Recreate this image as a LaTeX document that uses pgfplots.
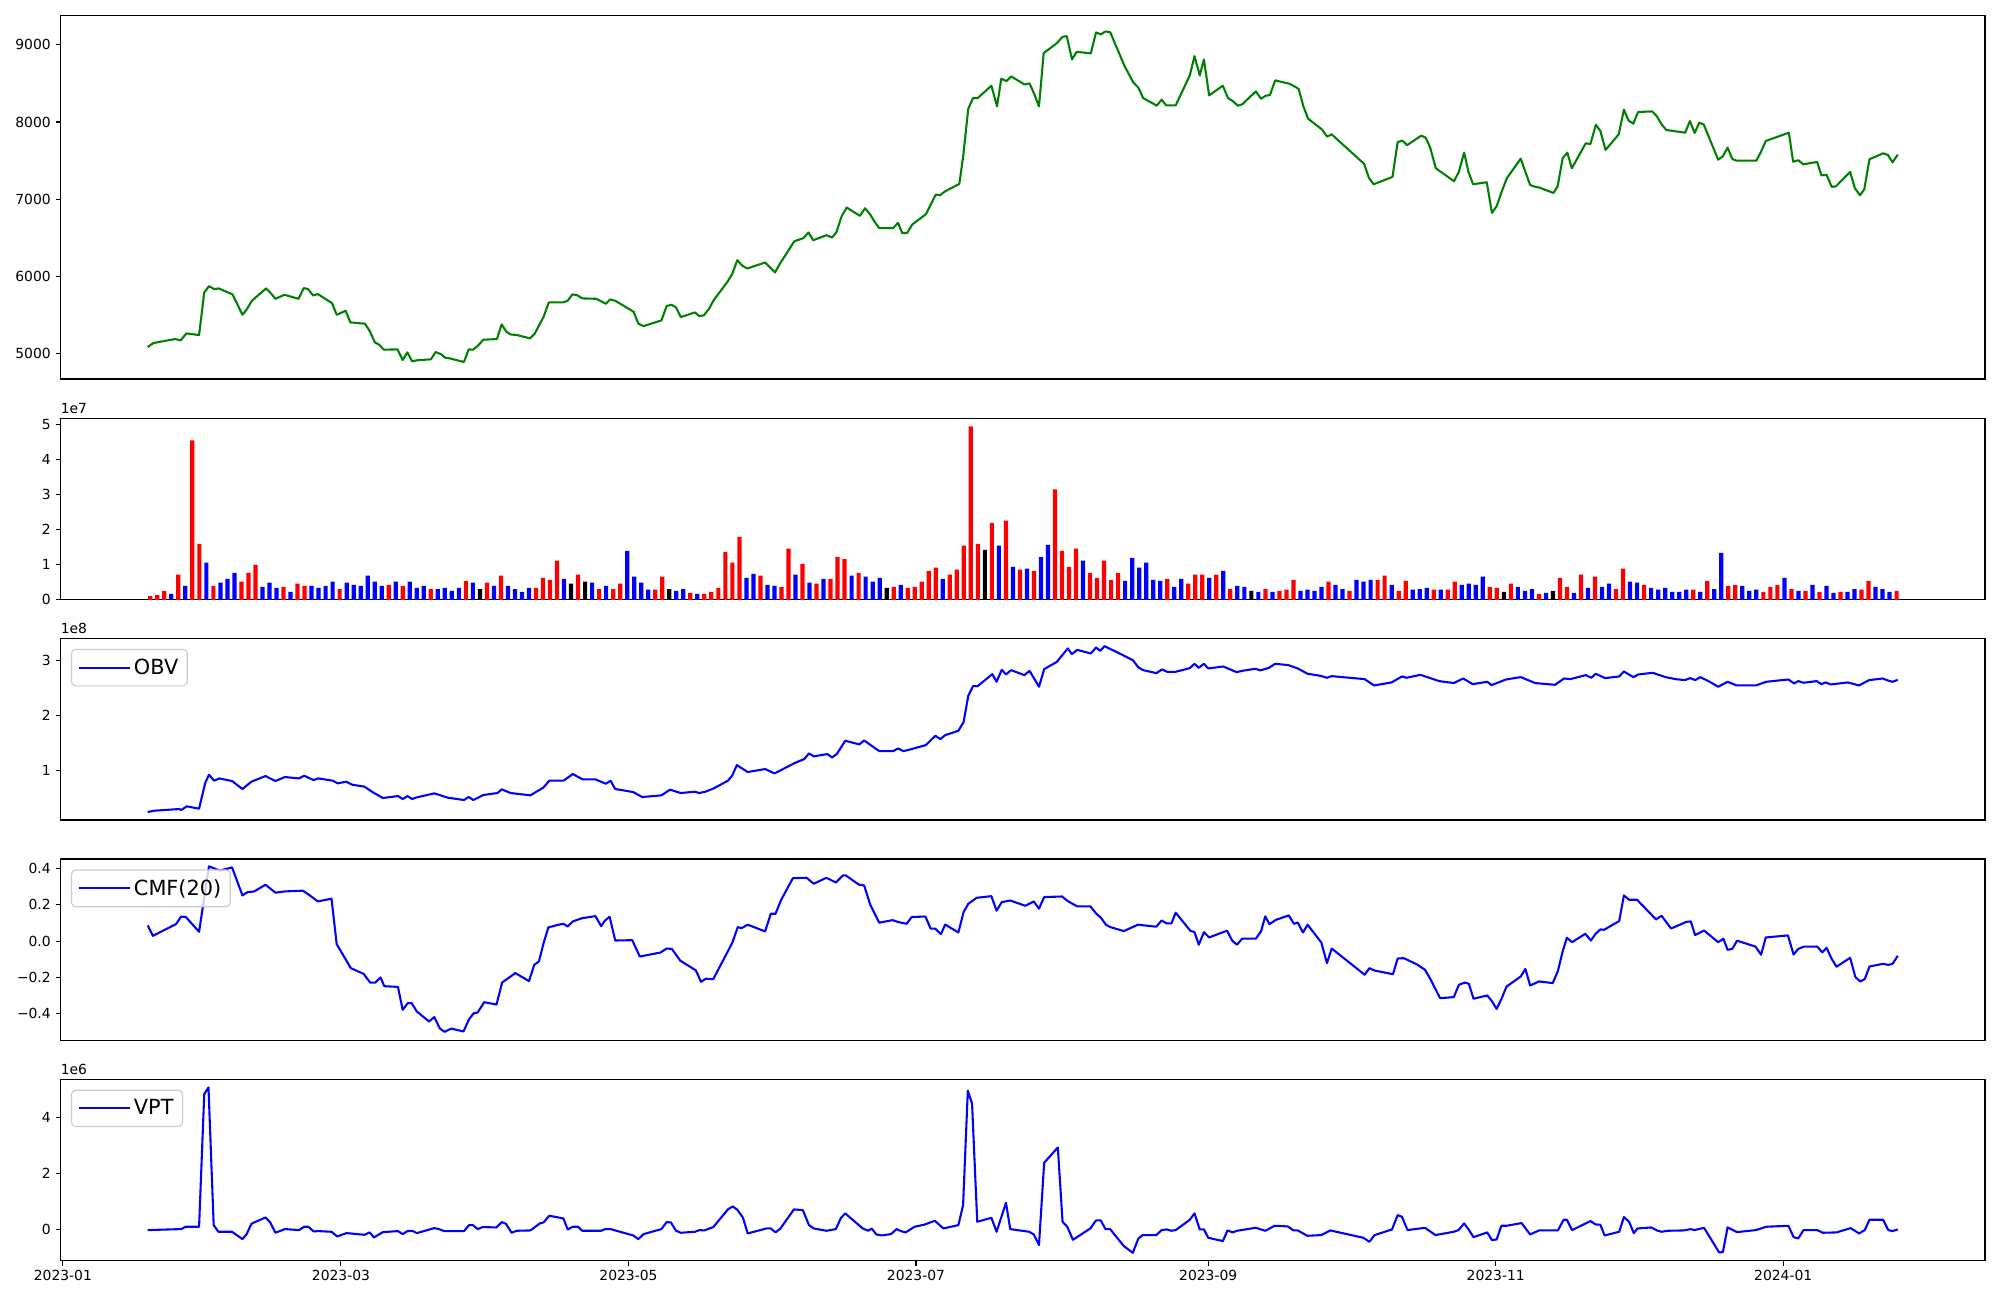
\documentclass[border=0pt]{standalone}
\usepackage{fontspec}
\setmainfont{DejaVu Sans}
\usepackage{pgfplots}
\usepackage{pgfplotstable}
\pgfplotsset{compat=1.18}

\pgfplotstableread{
i v c
0 0.11 0
1 0.14 0
2 0.26 0
3 0.17 1
4 0.72 0
5 0.40 1
6 4.55 0
7 1.60 0
8 1.06 1
9 0.40 0
10 0.49 1
11 0.60 1
12 0.77 1
13 0.52 0
14 0.77 0
15 1.00 0
16 0.37 1
17 0.49 1
18 0.34 1
19 0.37 0
20 0.23 1
21 0.46 0
22 0.40 0
23 0.40 1
24 0.34 1
25 0.40 1
26 0.52 1
27 0.31 0
28 0.49 1
29 0.43 1
30 0.40 1
31 0.69 1
32 0.52 1
33 0.40 1
34 0.43 0
35 0.52 1
36 0.40 0
37 0.52 1
38 0.34 1
39 0.40 1
40 0.31 0
41 0.31 1
42 0.34 1
43 0.26 1
44 0.34 1
45 0.54 0
46 0.49 1
47 0.31 2
48 0.49 0
49 0.40 1
50 0.69 0
51 0.40 1
52 0.31 1
53 0.23 1
54 0.34 1
55 0.34 0
56 0.63 0
57 0.57 0
58 1.12 0
59 0.60 1
60 0.46 2
61 0.72 0
62 0.52 2
63 0.49 1
64 0.31 0
65 0.40 1
66 0.31 0
67 0.46 0
68 1.40 1
69 0.66 1
70 0.49 1
71 0.29 1
72 0.29 0
73 0.66 0
74 0.31 2
75 0.26 1
76 0.31 1
77 0.20 0
78 0.17 1
79 0.17 0
80 0.23 0
81 0.34 0
82 1.37 0
83 1.06 0
84 1.80 0
85 0.63 1
86 0.74 1
87 0.69 0
88 0.43 1
89 0.40 1
90 0.37 0
91 1.46 0
92 0.72 1
93 1.03 0
94 0.49 1
95 0.46 0
96 0.60 1
97 0.60 0
98 1.23 0
99 1.17 0
100 0.69 1
101 0.77 0
102 0.66 1
103 0.52 1
104 0.63 1
105 0.34 2
106 0.37 0
107 0.43 1
108 0.34 0
109 0.37 0
110 0.52 0
111 0.83 0
112 0.92 0
113 0.60 1
114 0.72 0
115 0.86 0
116 1.55 0
117 4.95 0
118 1.60 0
119 1.43 2
120 2.20 0
121 1.55 1
122 2.26 0
123 0.94 1
124 0.86 0
125 0.89 1
126 0.83 0
127 1.23 1
128 1.57 1
129 3.15 0
130 1.40 0
131 0.94 0
132 1.46 0
133 1.12 1
134 0.77 0
135 0.63 0
136 1.12 0
137 0.57 0
138 0.77 0
139 0.54 1
140 1.20 1
141 0.92 1
142 1.06 1
143 0.57 1
144 0.54 1
145 0.60 0
146 0.37 1
147 0.60 1
148 0.46 0
149 0.72 0
150 0.72 0
151 0.63 1
152 0.72 0
153 0.83 1
154 0.31 0
155 0.40 1
156 0.37 1
157 0.26 2
158 0.23 1
159 0.31 0
160 0.23 1
161 0.26 0
162 0.29 0
163 0.57 0
164 0.26 1
165 0.29 1
166 0.26 1
167 0.37 1
168 0.52 0
169 0.43 1
170 0.31 1
171 0.26 0
172 0.57 1
173 0.52 1
174 0.57 1
175 0.57 0
176 0.69 0
177 0.43 1
178 0.26 0
179 0.54 0
180 0.29 1
181 0.31 1
182 0.34 1
183 0.29 0
184 0.29 1
185 0.29 0
186 0.52 0
187 0.43 1
188 0.46 1
189 0.43 1
190 0.66 1
191 0.37 0
192 0.34 0
193 0.23 2
194 0.46 0
195 0.37 1
196 0.26 1
197 0.31 1
198 0.17 0
199 0.20 1
200 0.26 2
201 0.63 0
202 0.37 0
203 0.20 1
204 0.72 0
205 0.34 1
206 0.66 0
207 0.37 1
208 0.46 1
209 0.31 0
210 0.89 0
211 0.52 1
212 0.49 1
213 0.43 0
214 0.34 1
215 0.29 1
216 0.34 1
217 0.23 1
218 0.23 1
219 0.29 1
220 0.29 0
221 0.23 1
222 0.54 0
223 0.31 1
224 1.34 1
225 0.40 0
226 0.43 0
227 0.40 1
228 0.26 1
229 0.29 1
230 0.23 0
231 0.37 0
232 0.43 0
233 0.63 1
234 0.31 0
235 0.26 1
236 0.26 0
237 0.43 1
238 0.23 0
239 0.40 1
240 0.20 1
241 0.23 0
242 0.23 1
243 0.31 1
244 0.29 0
245 0.54 0
246 0.37 1
247 0.31 1
248 0.23 1
249 0.26 0
}\voltab

\pgfplotsset{
  mpl/.style={
    scale only axis,
    width=1385.6pt,
    axis line style={line width=0.8pt},
    every tick/.style={black, line width=0.8pt},
    major tick length=3.5pt,
    tick align=outside,
    xtick pos=left, ytick pos=left,
    ticklabel style={font=\fontsize{10}{12}\selectfont},
    /pgf/number format/assume math mode=true,
    legend style={at={(0,1)}, anchor=north west, xshift=7.5pt, yshift=-7.5pt,
      draw=black!20, line width=0.8pt, rounded corners=3pt, fill=white,
      fill opacity=0.8, text opacity=1, font=\fontsize{15}{18}\selectfont,
      inner xsep=4.5pt, inner ysep=4.8pt, cells={anchor=west}},
    legend image code/.code={\path (0pt,0pt) -- (37pt,0pt);\draw[##1, line width=1.5pt] (0pt,0pt) -- (30pt,0pt);},
  },
  dates/.style={xmin=-0.5, xmax=407.8},
  ln/.style={line width=1.5pt, line join=round},
}

\begin{document}
\begin{tikzpicture}
\useasboundingbox (0,0) rectangle (1440pt,-936pt);

% ---------------- Panel 1: price
\begin{axis}[mpl, dates, at={(43.56pt,-11.16pt)}, anchor=north west, height=261.7pt,
  ymin=4667, ymax=9382, xtick=\empty,
  ytick={5000,6000,7000,8000,9000}, yticklabels={5000,6000,7000,8000,9000}]
\addplot[ln, color={rgb,255:red,0;green,128;blue,0}] coordinates {
(18.0,5081)(19.2,5133)(23.8,5185)(25.0,5168)(26.2,5258)(28.9,5237)(30.0,5789)(31.0,5871)
(32.1,5833)(33.1,5841)(36.0,5764)(38.1,5500)(39.0,5569)(40.1,5681)(43.1,5841)(44.0,5789)
(45.1,5707)(47.0,5759)(50.0,5707)(51.1,5846)(52.0,5833)(53.1,5750)(54.1,5768)(57.1,5651)
(58.1,5500)(60.0,5552)(61.0,5401)(64.1,5384)(65.1,5289)(66.2,5142)(67.1,5111)(68.1,5047)
(71.0,5051)(72.1,4913)(73.1,5012)(74.1,4896)(75.1,4909)(78.1,4922)(79.1,5017)(80.3,4986)
(81.1,4943)(82.1,4934)(85.1,4887)(86.1,5051)(87.0,5047)(88.0,5094)(89.2,5176)(92.1,5185)
(93.1,5375)(94.1,5280)(95.0,5245)(96.3,5237)(99.1,5194)(100.1,5254)(102.0,5474)(103.1,5660)
(106.1,5660)(107.1,5681)(108.1,5764)(109.1,5755)(110.2,5712)(113.2,5707)(115.2,5643)(116.1,5699)
(117.2,5681)(121.1,5539)(122.1,5384)(123.2,5353)(127.0,5427)(128.1,5612)(129.1,5630)(130.1,5595)
(131.1,5470)(134.1,5530)(135.0,5483)(136.0,5492)(137.1,5578)(138.1,5690)(141.0,5928)(142.0,6027)
(143.1,6208)(144.1,6139)(145.2,6100)(149.0,6178)(151.1,6049)(152.2,6169)(155.2,6454)(157.1,6493)
(158.2,6567)(159.2,6467)(162.0,6532)(163.2,6502)(164.1,6567)(165.2,6774)(166.3,6891)(169.1,6783)
(170.2,6882)(171.3,6800)(172.1,6718)(173.2,6623)(176.1,6623)(177.2,6692)(178.1,6558)(179.1,6558)
(180.2,6670)(183.1,6804)(185.2,7059)(186.1,7050)(187.2,7102)(190.2,7197)(191.0,7547)(192.1,8173)
(193.1,8311)(194.1,8311)(197.0,8471)(198.2,8203)(199.1,8562)(200.2,8531)(201.2,8592)(204.0,8488)
(205.1,8501)(206.1,8363)(207.1,8203)(208.1,8894)(210.9,9024)(212.1,9106)(213.0,9114)(214.1,8812)
(215.1,8911)(218.1,8890)(219.2,9162)(220.2,9136)(221.2,9175)(222.2,9166)(225.2,8734)(227.1,8514)
(228.2,8445)(229.2,8311)(232.1,8212)(233.1,8290)(234.1,8216)(236.1,8216)(239.1,8605)(240.1,8855)
(241.2,8605)(242.1,8812)(243.2,8346)(246.1,8471)(247.2,8311)(248.2,8272)(249.3,8212)(250.2,8229)
(253.1,8397)(254.2,8302)(255.2,8341)(256.1,8350)(257.2,8540)(260.2,8497)(261.2,8467)(262.2,8428)
(263.2,8203)(264.2,8043)(267.2,7901)(268.2,7810)(269.2,7840)(276.1,7456)(277.1,7275)(278.1,7193)
(282.1,7288)(283.2,7741)(284.2,7758)(285.2,7700)(288.2,7823)(289.15,7797)(290.1,7668)(291.3,7400)
(295.15,7232)(296.2,7357)(297.3,7603)(298.2,7357)(299.2,7193)(302.1,7219)(303.2,6821)(304.2,6908)
(305.3,7102)(306.35,7270)(309.3,7525)(310.3,7353)(311.3,7184)(312.2,7163)(313.25,7150)(316.25,7080)
(317.15,7167)(318.2,7530)(319.2,7603)(320.15,7400)(323.1,7724)(324.1,7715)(325.25,7966)(326.2,7884)
(327.3,7638)(330.1,7840)(331.2,8160)(332.2,8018)(333.2,7979)(334.2,8130)(337.2,8138)(338.2,8074)
(339.2,7970)(340.2,7897)(344.2,7862)(345.2,8013)(346.2,7858)(347.2,7992)(348.15,7966)(351.2,7512)
(352.2,7556)(353.2,7668)(354.2,7521)(355.1,7499)(359.3,7499)(360.2,7603)(361.3,7754)(366.2,7862)
(367.1,7486)(368.2,7504)(369.25,7452)(372.2,7482)(373.1,7309)(374.2,7314)(375.3,7158)(376.2,7167)
(379.2,7353)(380.2,7141)(381.3,7050)(382.2,7128)(383.3,7517)(386.2,7594)(387.2,7573)(388.2,7478)
(389.3,7577)
};
\end{axis}

% ---------------- Panel 2: volume
\begin{axis}[mpl, at={(43.56pt,-301.2pt)}, anchor=north west, height=130.7pt,
  xmin=-12.8, xmax=261.6, ymin=0, ymax=5.18, xtick=\empty,
  ytick={0,1,2,3,4,5}, yticklabels={0,1,2,3,4,5}]
\addplot[ybar, bar width=0.6, bar shift=0pt, fill=red, draw=none,
  restrict expr to domain={\thisrow{c}}{-0.5:0.5}] table[x=i, y=v] {\voltab};
\addplot[ybar, bar width=0.6, bar shift=0pt, fill=blue, draw=none,
  restrict expr to domain={\thisrow{c}}{0.5:1.5}] table[x=i, y=v] {\voltab};
\addplot[ybar, bar width=0.6, bar shift=0pt, fill=black, draw=none,
  restrict expr to domain={\thisrow{c}}{1.5:2.5}] table[x=i, y=v] {\voltab};
\end{axis}
\node[anchor=south west, inner sep=0pt, font=\fontsize{10}{12}\selectfont] at (43.56pt,-298pt) {1e7};

% ---------------- Panel 3: OBV
\begin{axis}[mpl, dates, at={(43.56pt,-459.7pt)}, anchor=north west, height=130.7pt,
  ymin=0.096, ymax=3.408, xtick=\empty,
  ytick={1,2,3}, yticklabels={1,2,3}]
\addplot[ln, color=blue] coordinates {
(18.0,0.242)(19.4,0.266)(24.7,0.296)(25.1,0.278)(26.3,0.345)(28.9,0.303)(30.2,0.770)(31.0,0.922)
(32.1,0.813)(33.2,0.855)(35.9,0.807)(38.1,0.661)(40.0,0.795)(43.0,0.898)(45.1,0.807)(47.1,0.880)
(50.1,0.855)(51.2,0.904)(53.2,0.825)(54.2,0.855)(57.3,0.813)(58.3,0.764)(60.1,0.795)(61.4,0.740)
(64.0,0.704)(65.8,0.600)(67.9,0.497)(71.1,0.533)(72.1,0.479)(73.1,0.533)(74.1,0.479)(75.1,0.509)
(78.8,0.582)(81.7,0.503)(85.1,0.461)(86.1,0.515)(87.1,0.461)(89.2,0.552)(92.2,0.588)(93.1,0.655)
(95.0,0.588)(99.2,0.546)(102.0,0.691)(103.2,0.813)(106.2,0.813)(108.2,0.934)(110.3,0.837)(113.0,0.837)
(115.2,0.758)(116.2,0.813)(117.2,0.661)(121.0,0.606)(122.9,0.515)(127.0,0.546)(128.8,0.649)(131.1,0.588)
(134.1,0.612)(135.0,0.588)(136.3,0.612)(138.1,0.673)(141.1,0.813)(142.0,0.904)(143.0,1.098)(145.3,0.971)
(149.0,1.026)(151.0,0.946)(155.4,1.141)(157.3,1.208)(158.3,1.311)(159.3,1.257)(162.2,1.299)(163.2,1.238)
(164.2,1.299)(166.0,1.542)(169.0,1.475)(170.0,1.548)(171.6,1.451)(173.2,1.354)(176.2,1.354)(177.2,1.402)
(178.3,1.354)(179.3,1.372)(183.1,1.463)(185.1,1.633)(186.2,1.572)(187.2,1.645)(190.0,1.724)(191.1,1.882)
(192.1,2.362)(193.1,2.539)(194.1,2.539)(197.2,2.758)(198.1,2.618)(199.2,2.836)(200.1,2.752)(201.2,2.830)
(204.0,2.739)(205.1,2.818)(207.1,2.527)(208.2,2.849)(210.9,2.982)(213.2,3.226)(214.1,3.122)(215.2,3.201)
(218.1,3.134)(219.2,3.244)(220.1,3.183)(221.0,3.268)(224.2,3.134)(227.0,3.013)(228.2,2.879)(229.2,2.830)
(232.0,2.776)(233.2,2.843)(234.3,2.800)(236.1,2.800)(239.1,2.867)(240.1,2.946)(241.0,2.873)(242.1,2.946)
(243.0,2.861)(246.2,2.897)(249.0,2.794)(250.6,2.824)(253.1,2.855)(254.0,2.824)(255.9,2.873)(257.2,2.946)
(260.0,2.922)(262.0,2.861)(264.1,2.764)(266.8,2.727)(268.2,2.691)(269.2,2.721)(276.2,2.666)(278.2,2.551)
(281.9,2.606)(284.1,2.715)(285.1,2.691)(288.0,2.745)(292.0,2.630)(295.1,2.594)(297.1,2.678)(299.1,2.575)
(302.2,2.618)(303.1,2.557)(306.2,2.660)(309.3,2.703)(312.4,2.594)(316.6,2.563)(318.5,2.678)(319.8,2.666)
(323.1,2.739)(324.3,2.691)(325.2,2.764)(327.2,2.685)(330.2,2.715)(331.2,2.806)(333.2,2.703)(334.3,2.752)
(337.3,2.782)(340.0,2.703)(342.2,2.666)(344.1,2.648)(345.3,2.685)(346.3,2.648)(347.4,2.703)(349.4,2.618)
(351.2,2.527)(353.2,2.618)(355.1,2.551)(359.2,2.551)(361.4,2.618)(366.1,2.660)(367.3,2.588)(368.2,2.630)
(369.3,2.600)(372.1,2.630)(373.1,2.575)(374.0,2.606)(375.1,2.569)(378.7,2.606)(381.1,2.551)(383.2,2.648)
(386.1,2.678)(387.2,2.642)(388.2,2.618)(389.3,2.654)
};
\addlegendentry{OBV}
\end{axis}
\node[anchor=south west, inner sep=0pt, font=\fontsize{10}{12}\selectfont] at (43.56pt,-456.5pt) {1e8};

% ---------------- Panel 4: CMF
\begin{axis}[mpl, dates, at={(43.56pt,-618.5pt)}, anchor=north west, height=130.7pt,
  ymin=-0.547, ymax=0.451, xtick=\empty,
  ytick={-0.4,-0.2,0,0.2,0.4}, yticklabels={−0.4,−0.2,0.0,0.2,0.4}]
\addplot[ln, color=blue] coordinates {
(18.0,0.086)(19.1,0.029)(24.0,0.093)(25.1,0.135)(26.1,0.132)(28.9,0.051)(31.0,0.411)(33.3,0.387)
(35.9,0.405)(38.1,0.251)(39.2,0.269)(40.6,0.273)(43.0,0.310)(45.1,0.266)(47.1,0.273)(50.9,0.277)
(52.2,0.255)(54.1,0.218)(57.0,0.233)(58.1,-0.017)(61.1,-0.149)(63.8,-0.180)(65.2,-0.228)(66.3,-0.228)
(67.4,-0.200)(68.2,-0.248)(71.1,-0.252)(72.1,-0.378)(73.2,-0.341)(74.0,-0.341)(75.1,-0.387)(77.7,-0.442)
(78.8,-0.418)(80.0,-0.481)(81.0,-0.499)(82.4,-0.481)(85.0,-0.497)(86.2,-0.429)(87.2,-0.396)(88.0,-0.393)
(89.4,-0.336)(92.0,-0.349)(93.2,-0.228)(96.0,-0.176)(98.9,-0.220)(100.0,-0.131)(101.0,-0.112)(102.0,-0.011)
(103.0,0.075)(105.2,0.090)(106.2,0.095)(107.1,0.080)(108.2,0.108)(110.2,0.126)(113.0,0.137)(114.2,0.082)
(115.0,0.112)(116.0,0.134)(117.2,0.003)(120.8,0.005)(122.4,-0.085)(126.8,-0.063)(128.1,-0.041)(129.2,-0.043)
(131.0,-0.108)(134.3,-0.161)(135.4,-0.224)(136.4,-0.207)(138.0,-0.209)(142.0,-0.011)(143.2,0.077)(144.0,0.071)
(145.3,0.090)(149.0,0.053)(150.2,0.150)(151.2,0.150)(152.4,0.227)(154.9,0.346)(157.8,0.348)(159.3,0.315)
(162.0,0.348)(164.0,0.322)(165.5,0.361)(166.1,0.361)(168.9,0.310)(170.0,0.306)(171.3,0.200)(173.2,0.101)
(176.0,0.115)(177.3,0.104)(179.0,0.095)(180.1,0.132)(183.0,0.135)(184.1,0.069)(185.1,0.068)(186.3,0.038)
(187.2,0.091)(190.0,0.047)(191.1,0.159)(192.1,0.205)(193.9,0.238)(197.0,0.247)(198.1,0.167)(199.2,0.214)
(201.0,0.223)(204.2,0.194)(206.0,0.218)(207.1,0.178)(208.2,0.242)(212.0,0.245)(213.3,0.218)(215.2,0.191)
(218.0,0.191)(219.3,0.149)(220.2,0.130)(221.3,0.090)(222.2,0.077)(225.1,0.055)(228.1,0.090)(232.0,0.079)
(233.1,0.113)(234.2,0.097)(235.2,0.097)(236.1,0.156)(239.2,0.057)(240.1,0.049)(241.0,-0.020)(242.1,0.049)
(243.2,0.020)(247.0,0.057)(248.1,0.002)(249.1,-0.020)(250.2,0.013)(253.1,0.013)(254.2,0.053)(255.1,0.136)
(256.0,0.093)(257.4,0.117)(260.1,0.141)(261.2,0.095)(262.0,0.102)(263.1,0.047)(264.1,0.090)(267.0,-0.008)
(268.2,-0.121)(269.2,-0.041)(276.2,-0.185)(277.2,-0.149)(278.3,-0.162)(282.2,-0.182)(283.2,-0.096)(284.5,-0.094)
(287.2,-0.127)(289.0,-0.158)(290.1,-0.207)(292.2,-0.314)(295.1,-0.308)(296.2,-0.240)(297.5,-0.228)(298.3,-0.235)
(299.3,-0.317)(302.2,-0.299)(303.1,-0.327)(304.2,-0.373)(305.2,-0.319)(306.3,-0.250)(309.3,-0.195)(310.3,-0.153)
(311.3,-0.244)(313.2,-0.222)(316.1,-0.231)(317.2,-0.164)(318.2,-0.057)(319.1,0.018)(320.2,-0.006)(323.0,0.040)
(324.2,0.003)(325.2,0.040)(326.2,0.064)(327.0,0.062)(330.2,0.110)(331.2,0.251)(332.3,0.227)(334.0,0.227)
(338.0,0.119)(339.2,0.139)(341.2,0.069)(344.5,0.106)(345.4,0.108)(346.3,0.033)(348.2,0.058)(351.2,-0.006)
(352.3,0.013)(353.2,-0.048)(354.2,-0.043)(355.2,0.002)(359.1,-0.030)(360.3,-0.075)(361.3,0.020)(366.0,0.031)
(367.2,-0.074)(368.2,-0.043)(369.3,-0.031)(372.2,-0.030)(373.3,-0.062)(374.2,-0.037)(375.2,-0.094)(376.3,-0.141)
(379.2,-0.092)(380.3,-0.197)(381.3,-0.222)(382.3,-0.209)(383.3,-0.140)(386.2,-0.125)(387.3,-0.131)(388.2,-0.125)
(389.3,-0.081)
};
\addlegendentry{CMF(20)}
\end{axis}

% ---------------- Panel 5: VPT
\begin{axis}[mpl, dates, at={(43.56pt,-777.1pt)}, anchor=north west, height=130.7pt,
  ymin=-1.11, ymax=5.36,
  xtick={0,59,120,181,243,304,365},
  xticklabels={2023-01,2023-03,2023-05,2023-07,2023-09,2023-11,2024-01},
  ytick={0,2,4}, yticklabels={0,2,4}]
\addplot[ln, color=blue] coordinates {
(18.0,-0.014)(25.1,0.022)(26.0,0.105)(28.9,0.105)(30.0,4.833)(30.9,5.070)(32.0,0.164)(33.0,-0.074)
(35.9,-0.074)(38.1,-0.335)(39.0,-0.157)(40.0,0.212)(43.0,0.437)(44.0,0.259)(45.1,-0.109)(47.1,0.022)
(50.1,-0.014)(51.2,0.105)(52.1,0.105)(53.2,-0.062)(54.2,-0.050)(57.0,-0.074)(58.2,-0.240)(60.2,-0.121)
(64.0,-0.181)(65.1,-0.097)(66.0,-0.276)(67.9,-0.086)(71.1,-0.050)(72.1,-0.157)(73.1,-0.050)(74.1,-0.038)
(75.1,-0.121)(78.8,0.057)(79.8,0.022)(80.9,-0.050)(85.1,-0.050)(86.2,0.164)(87.0,0.164)(88.0,0.022)
(89.1,0.093)(92.0,0.081)(93.1,0.271)(94.0,0.212)(95.2,-0.109)(96.3,-0.038)(99.2,-0.026)(101.2,0.224)
(102.0,0.259)(103.2,0.497)(106.2,0.402)(107.1,0.010)(108.2,0.105)(109.3,0.105)(110.2,-0.038)(114.2,-0.038)
(115.1,0.022)(116.2,0.022)(117.2,-0.026)(121.0,-0.204)(122.1,-0.335)(123.2,-0.157)(127.0,0.022)(128.1,0.271)
(129.0,0.259)(130.1,-0.038)(131.1,-0.109)(134.1,-0.074)(135.1,-0.014)(136.1,-0.026)(138.0,0.093)(141.1,0.723)
(142.1,0.830)(143.1,0.711)(144.3,0.425)(145.3,-0.133)(149.3,0.045)(150.2,0.045)(151.2,-0.097)(152.2,0.034)
(155.1,0.723)(157.0,0.699)(158.3,0.164)(159.3,0.045)(162.0,-0.038)(164.0,0.022)(165.1,0.425)(166.0,0.580)
(169.7,0.045)(170.9,-0.038)(171.6,0.045)(172.6,-0.169)(173.7,-0.204)(175.7,-0.157)(176.9,0.022)(177.8,-0.050)
(178.8,-0.097)(180.7,0.105)(182.7,0.176)(185.0,0.319)(186.8,0.045)(190.0,0.164)(191.0,0.877)(192.0,4.952)
(192.9,4.500)(194.0,0.283)(197.0,0.425)(198.1,-0.074)(200.1,0.960)(201.0,0.022)(205.0,-0.074)(206.0,-0.169)
(207.1,-0.549)(208.2,2.386)(211.1,2.932)(212.1,0.283)(213.1,0.105)(214.3,-0.359)(218.0,0.045)(219.2,0.331)
(220.2,0.331)(221.2,0.022)(222.2,0.022)(225.1,-0.584)(227.0,-0.822)(228.2,-0.311)(229.1,-0.192)(232.0,-0.192)
(233.1,-0.014)(234.2,0.010)(235.2,-0.038)(236.1,-0.014)(239.1,0.354)(240.1,0.580)(241.2,0.010)(242.1,0.010)
(243.0,-0.287)(246.1,-0.406)(247.1,-0.026)(248.2,-0.097)(249.1,-0.038)(253.1,0.069)(255.1,-0.038)(257.1,0.140)
(259.9,0.117)(261.1,-0.026)(262.0,-0.026)(264.0,-0.216)(267.0,-0.192)(268.9,-0.026)(275.9,-0.287)(277.2,-0.430)
(278.3,-0.192)(282.0,0.010)(283.2,0.520)(284.1,0.461)(285.3,-0.014)(289.0,0.069)(291.2,-0.192)(295.1,-0.074)
(296.1,-0.014)(297.3,0.224)(298.2,0.022)(299.3,-0.264)(302.2,-0.097)(303.2,-0.371)(304.2,-0.347)(305.2,0.140)
(306.3,0.140)(309.5,0.236)(311.3,-0.169)(313.2,-0.026)(317.2,-0.026)(318.4,0.354)(319.1,0.354)(320.2,-0.014)
(324.1,0.307)(325.2,0.188)(326.2,0.176)(327.1,-0.204)(330.2,-0.074)(331.2,0.449)(332.3,0.283)(333.3,-0.121)
(334.1,0.045)(337.0,0.081)(338.2,-0.026)(339.2,-0.074)(340.5,-0.038)(343.9,-0.026)(345.3,0.022)(346.2,-0.014)
(348.2,0.069)(351.4,-0.810)(352.2,-0.798)(353.2,0.081)(355.2,-0.086)(359.2,-0.014)(361.4,0.105)(366.1,0.140)
(367.2,-0.264)(368.2,-0.311)(369.3,-0.014)(372.2,-0.014)(373.4,-0.109)(376.3,-0.097)(379.3,0.057)(381.1,-0.133)
(382.3,-0.014)(383.3,0.354)(386.2,0.354)(387.3,-0.014)(388.2,-0.050)(389.3,0.010)
};
\addlegendentry{VPT}
\end{axis}
\node[anchor=south west, inner sep=0pt, font=\fontsize{10}{12}\selectfont] at (43.56pt,-773.9pt) {1e6};
\end{tikzpicture}
\end{document}
